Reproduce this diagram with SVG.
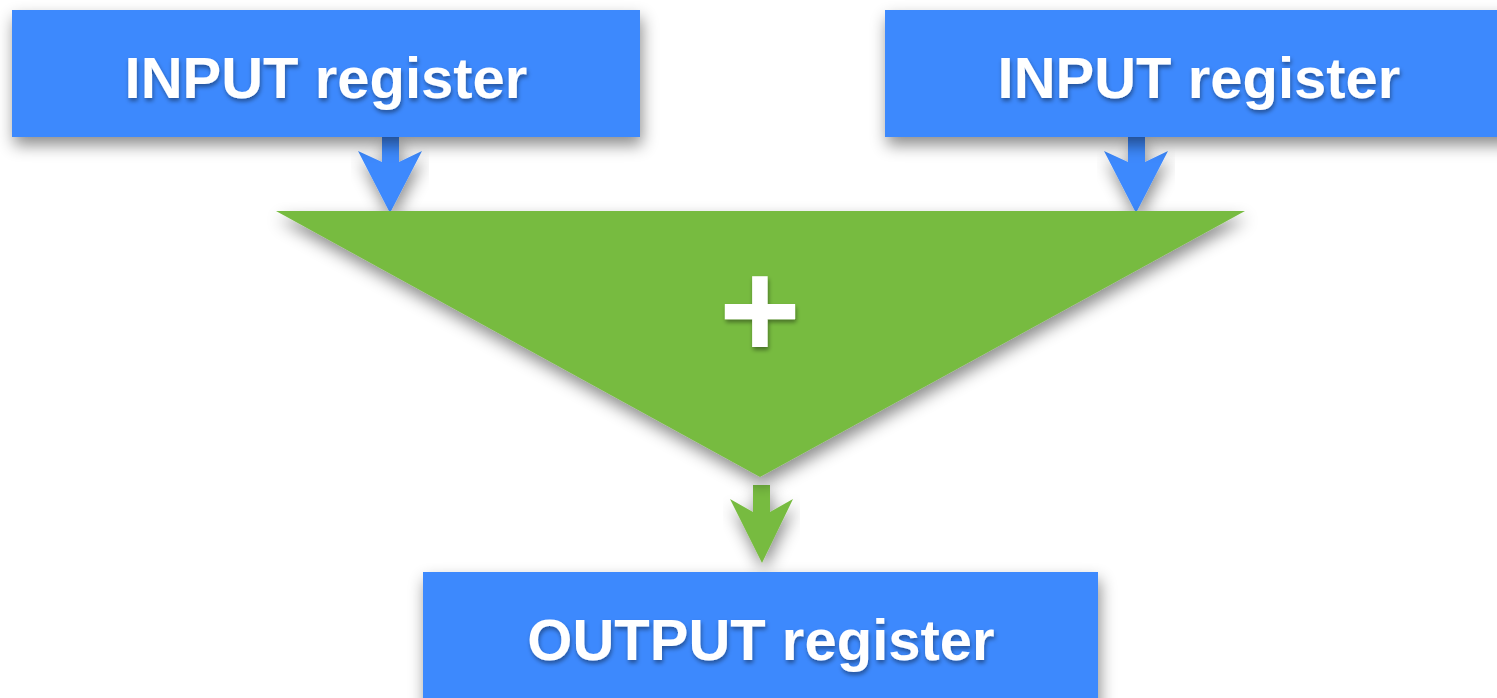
<svg xmlns="http://www.w3.org/2000/svg" width="1497" height="698" viewBox="0 0 1497 698">
<defs>
<filter id="sh" x="-10%" y="-20%" width="120%" height="160%">
<feDropShadow dx="2" dy="8" stdDeviation="8" flood-color="#000" flood-opacity="0.45"/>
</filter>
<filter id="tsh" x="-10%" y="-20%" width="120%" height="150%">
<feDropShadow dx="1" dy="3" stdDeviation="2" flood-color="#000" flood-opacity="0.4"/>
</filter>
<style>
.box{fill:#3D89FD;filter:url(#sh)}
.lbl{font-family:"Liberation Sans",Arial,sans-serif;font-weight:bold;font-size:58px;fill:#fff;text-anchor:middle;filter:url(#tsh)}
.ab{fill:#3D89FD;filter:url(#sh)}
.ag{fill:#77BB41;filter:url(#sh)}
</style>
</defs>
<rect width="1497" height="698" fill="#fff"/>
<g id="connectors">
<path class="ab" d="M382,137 H399 V162 L422,151 L390,213 L358,151 L382,162 Z"/>
<path class="ab" d="M1128,137 H1145 V162 L1168,151 L1136,213 L1104,151 L1128,162 Z"/>
<path class="ag" d="M753,485 H770 V512 L793,499 L762,563 L730,499 L753,512 Z"/>
</g>
<g id="input1">
<rect class="box" x="12" y="10" width="628" height="127"/>
<text class="lbl" x="326" y="98">INPUT register</text>
</g>
<g id="input2">
<rect class="box" x="885" y="10" width="630" height="127"/>
<text class="lbl" x="1199" y="98">INPUT register</text>
</g>
<g id="adder">
<polygon points="276,211 1245,211 760,477" fill="#77BB41" filter="url(#sh)"/>
<text x="760" y="358" font-family="Liberation Sans,Arial,sans-serif" font-weight="bold" font-size="140" fill="#fff" text-anchor="middle" filter="url(#tsh)">+</text>
</g>
<g id="output">
<rect class="box" x="423" y="572" width="675" height="140"/>
<text class="lbl" x="761" y="660">OUTPUT register</text>
</g>
</svg>
